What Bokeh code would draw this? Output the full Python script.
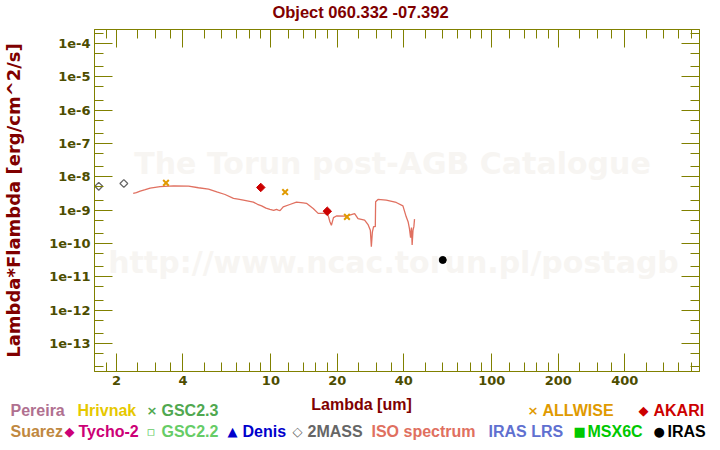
import math
from bokeh.plotting import figure
from bokeh.models import Range1d, LogAxis, FixedTicker, CustomJSTickFormatter, Label
from bokeh.core.properties import value
from bokeh.embed import file_html
from bokeh.resources import INLINE

# ---------------- data ----------------
iso_wave = [2.38, 2.46, 2.56, 2.70, 2.84, 3.15, 3.63, 4.24, 4.70, 5.22, 5.69, 6.20, 6.77,
            7.10, 7.51, 8.33, 8.70, 9.08, 9.50, 9.90, 10.3, 10.6, 10.8, 11.0, 11.37,
            12.18, 13.06, 14.0, 14.49, 15.54, 16.37, 17.53, 18.16, 18.5, 18.79, 19.2,
            19.80, 21.97, 23.94, 24.80, 26.57, 27.53, 28.2, 28.5, 28.8, 29.17, 29.7, 29.8,
            30.54, 33.29, 36.94, 39.61, 40.99, 41.8, 42.4, 42.9, 43.3, 43.6, 44.0, 44.4,
            44.7]
iso_flux = [3.2e-9, 3.35e-9, 3.7e-9, 4.1e-9, 4.6e-9, 5.1e-9, 5.35e-9, 5.25e-9, 4.7e-9,
            4.3e-9, 3.55e-9, 2.95e-9, 2.25e-9, 2.15e-9, 2.0e-9, 1.75e-9, 1.5e-9, 1.35e-9,
            1.15e-9, 1.05e-9, 0.98e-9, 1.05e-9, 1.0e-9, 0.97e-9, 1.25e-9, 1.48e-9, 1.75e-9,
            1.65e-9, 1.6e-9, 1.12e-9, 8.0e-10, 8.0e-10, 7.0e-10, 4.5e-10, 3.5e-10, 6.0e-10,
            6.7e-10, 6.6e-10, 7.9e-10, 5.6e-10, 5.0e-10, 3.7e-10, 2.5e-10, 8.0e-11, 2.2e-10,
            3.2e-10, 3.2e-10, 1.8e-9, 2.1e-9, 2.0e-9, 1.7e-9, 1.35e-9, 6.3e-10, 4.5e-10,
            2.8e-10, 1.5e-10, 3.0e-10, 9.0e-11, 2.5e-10, 3.2e-10, 5.4e-10]

twomass_wave = [1.662, 2.159]
twomass_flux = [5.2e-9, 6.3e-9]
allwise_wave = [3.35, 11.6, 22.1]
allwise_flux = [6.6e-9, 3.5e-9, 6.3e-10]
akari_wave = [9.0, 18.0]
akari_flux = [4.8e-9, 9.3e-10]
iras_wave = [60.0]
iras_flux = [3.2e-11]

x_major = [2, 4, 10, 20, 40, 100, 200, 400]
x_minor = [1.8, 2.5, 3, 3.5, 5, 6, 7, 8, 9, 12, 14, 16, 18, 25, 30, 35,
           50, 60, 70, 80, 90, 120, 140, 160, 180, 250, 300, 350, 500, 600, 700, 800]
y_major = [1e-13, 1e-12, 1e-11, 1e-10, 1e-9, 1e-8, 1e-7, 1e-6, 1e-5, 1e-4]
y_minor = [2e-14, 5e-14, 2e-13, 5e-13, 2e-12, 5e-12, 2e-11, 5e-11, 2e-10, 5e-10,
           2e-9, 5e-9, 2e-8, 5e-8, 2e-7, 5e-7, 2e-6, 5e-6, 2e-5, 5e-5, 2e-4]

title_text = "Object 060.332 -07.392"
x_label = "Lambda [um]"
y_label = "Lambda*Flambda [erg/cm^2/s]"
watermark = ["The Torun post-AGB Catalogue", "http://www.ncac.torun.pl/postagb"]

legend_names = ["Pereira", "Hrivnak", "GSC2.3", "ALLWISE", "AKARI",
                "Suarez", "Tycho-2", "GSC2.2", "Denis", "2MASS",
                "ISO spectrum", "IRAS LRS", "MSX6C", "IRAS"]
legend_symbols = ["", "", "\u00d7", "\u00d7", "\u25c6",
                  "", "\u25c6", "\u25ab", "\u25b2", "\u25c7",
                  "", "", "\u25a0", "\u25cf"]
legend_colors = ["#B07090", "#E6C800", "#50A850", "#E09A00", "#CC0000",
                 "#C08840", "#CC0077", "#66CC66", "#0000CC", "#666666",
                 "#E07060", "#6070D0", "#00C800", "#000000"]

# ---------------- layout ----------------
W, H = 720, 450
TOP_H = 22          # title strip
MAIN_BOTTOM = 392   # canvas y where the legend strip starts
FL, FR, FT, FB = 92, 699, 29, 371
# legend placement (canvas px): text left x, symbol left x, row centre y
legend_text_x = [10, 77, 161, 542, 653, 10, 78, 161, 242, 307, 371, 488, 587, 667]
legend_sym_x = [0, 0, 146, 527, 638, 0, 64, 146, 227, 292, 0, 0, 573, 653]
legend_row_y = [410, 410, 410, 410, 410, 431, 431, 431, 431, 431, 431, 431, 431, 431]

OLIVE = "#808000"
TICKTXT = "#4D4D00"
DARKRED = "#800000"


def strip(y0, y1):
    f = figure(width=W, height=y1 - y0, x_range=Range1d(0, W), y_range=Range1d(y1, y0),
               output_backend="svg", toolbar_location=None, min_border=0,
               x_axis_location=None, y_axis_location=None, outline_line_color=None)
    f.grid.visible = False
    f.background_fill_color = "white"
    f.border_fill_color = "white"
    return f


# ---------------- title strip ----------------
t = strip(0, TOP_H)
t.text(x=[360], y=[11], text=[title_text], text_align="center", text_baseline="middle",
       text_font=value("Liberation Sans"), text_font_style="bold", text_font_size="16.5px",
       text_color=DARKRED)

# ---------------- main plot ----------------
p = figure(width=W, height=MAIN_BOTTOM - TOP_H, x_axis_type="log", y_axis_type="log",
           x_range=Range1d(1.59, 872), y_range=Range1d(1.445e-14, 2.63e-4),
           output_backend="svg", toolbar_location=None,
           min_border_left=FL, min_border_right=W - FR,
           min_border_top=FT - TOP_H, min_border_bottom=MAIN_BOTTOM - FB)
p.background_fill_color = "white"
p.border_fill_color = "white"
p.outline_line_color = OLIVE
p.grid.visible = False

bottom_ax = p.below[0]
left_ax = p.left[0]

top_ax = LogAxis()
right_ax = LogAxis()
p.add_layout(top_ax, "above")
p.add_layout(right_ax, "right")

xt = FixedTicker(ticks=x_major, minor_ticks=x_minor)
yt = FixedTicker(ticks=y_major, minor_ticks=y_minor)
for ax, tk in [(bottom_ax, xt), (top_ax, xt), (left_ax, yt), (right_ax, yt)]:
    ax.ticker = tk
    ax.axis_line_color = OLIVE
    ax.axis_line_width = 1
    ax.major_tick_line_color = OLIVE
    ax.minor_tick_line_color = OLIVE
    ax.major_tick_in = 18
    ax.major_tick_out = 0
    ax.minor_tick_in = 9
    ax.minor_tick_out = 0
    ax.major_label_text_font = "DejaVu Sans"
    ax.major_label_text_font_style = "bold"
    ax.major_label_text_font_size = "13px"
    ax.major_label_text_color = TICKTXT
    ax.major_label_standoff = 4

for ax in (top_ax, right_ax):
    ax.major_label_text_font_size = "1px"
    ax.major_label_text_alpha = 0
    ax.major_label_standoff = 0

bottom_ax.formatter = CustomJSTickFormatter(code="return String(tick)")
left_ax.formatter = CustomJSTickFormatter(code="return '1e' + Math.round(Math.log10(tick))")

left_ax.axis_label = y_label
left_ax.axis_label_text_font = "DejaVu Sans"
left_ax.axis_label_text_font_style = "bold"
left_ax.axis_label_text_font_size = "18px"
left_ax.axis_label_text_color = DARKRED
left_ax.axis_label_standoff = 22

# watermark
for txt, wx, wy in [(watermark[0], 298, 208), (watermark[1], 299, 109)]:
    p.add_layout(Label(x=wx, y=wy, x_units="screen", y_units="screen", text=txt,
                       text_align="center", text_baseline="middle", text_font="DejaVu Sans",
                       text_font_style="bold", text_font_size="30px", text_color="#F7F5F2",
                       level="underlay"))

# data
p.line(iso_wave, iso_flux, line_color="#E07060", line_width=1.3)
p.scatter(twomass_wave, twomass_flux, marker="square", angle=math.pi / 4, size=5.5,
          fill_color=None, line_color="#666666", line_width=1.3)
p.scatter(allwise_wave, allwise_flux, marker="x", size=8, line_color="#E09A00", line_width=2)
p.scatter(akari_wave, akari_flux, marker="square", angle=math.pi / 4, size=6,
          fill_color="#CC0000", line_color="#CC0000")
p.scatter(iras_wave, iras_flux, marker="circle", size=7, fill_color="black", line_color="black")

# ---------------- bottom strip: x-axis title and legend ----------------
q = strip(MAIN_BOTTOM, H)
q.text(x=[361], y=[404], text=[x_label], text_align="center", text_baseline="middle",
       text_font=value("Liberation Sans"), text_font_style="bold", text_font_size="16px",
       text_color=DARKRED)
q.text(x=legend_text_x, y=legend_row_y, text=legend_names, text_color=legend_colors,
       text_align="left", text_baseline="middle", text_font=value("Liberation Sans"),
       text_font_style="bold", text_font_size="16px")
sym_idx = [i for i, s in enumerate(legend_symbols) if s]
q.text(x=[legend_sym_x[i] for i in sym_idx], y=[legend_row_y[i] for i in sym_idx],
       text=[legend_symbols[i] for i in sym_idx],
       text_color=[legend_colors[i] for i in sym_idx],
       text_align="left", text_baseline="middle", text_font=value("DejaVu Sans"),
       text_font_style="bold", text_font_size="13px")

open("out.html", "w").write(file_html([t, p, q], INLINE))
